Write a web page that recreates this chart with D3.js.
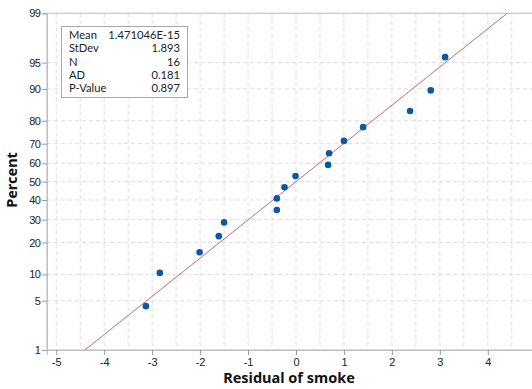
<!DOCTYPE html>
<html>
<head>
<meta charset="utf-8">
<script src="https://cdn.jsdelivr.net/npm/d3@7"></script>
<style>
  body { margin: 0; background: #fff; }
  svg { display: block; font-family: "Noto Sans", "Open Sans", sans-serif; }
  .grid line { stroke: #dcdcdc; stroke-dasharray: 4,3; }
  .tick text { fill: #222; font-size: 11px; }
  .axis-title { font-weight: bold; font-size: 14.5px; fill: #111; }
  .stats text { font-family: Lato, "Noto Sans", sans-serif; font-size: 11.2px; fill: #222; }
</style>
</head>
<body>
<div id="chart"></div>
<script>
// residuals, sorted
const residuals = [-3.13, -2.84, -2.01, -1.61, -1.50, -0.40, -0.40, -0.24,
                   -0.01, 0.67, 0.69, 1.00, 1.40, 2.38, 2.81, 3.11];
// plotting positions (percent)
const percents = [4.27, 10.37, 16.46, 22.56, 28.66, 34.76, 40.85, 46.95,
                  53.05, 59.15, 65.24, 71.34, 77.44, 83.54, 89.63, 95.73];
const xTicks = [-5, -4, -3, -2, -1, 0, 1, 2, 3, 4];
const xGrid = [-5, -4.5, -4, -3.5, -3, -2.5, -2, -1.5, -1, -0.5, 0, 0.5, 1, 1.5, 2, 2.5, 3, 3.5, 4, 4.5, 5];
const yTicks = [1, 5, 10, 20, 30, 40, 50, 60, 70, 80, 90, 95, 99];
const statLabels = ["Mean", "StDev", "N", "AD", "P-Value"];
const statValues = ["1.471046E-15", "1.893", "16", "0.181", "0.897"];
const fitMean = 1.471046e-15;
const fitSd = 1.893;

// inverse standard normal cdf (Acklam)
function probit(p) {
  const a = [-39.69683028665376, 220.9460984245205, -275.9285104469687, 138.3577518672690, -30.66479806614716, 2.506628277459239];
  const b = [-54.47609879822406, 161.5858368580409, -155.6989798598866, 66.80131188771972, -13.28068155288572];
  const c = [-0.007784894002430293, -0.3223964580411365, -2.400758277161838, -2.549732539343734, 4.374664141464968, 2.938163982698783];
  const d = [0.007784695709041462, 0.3224671290700398, 2.445134137142996, 3.754408661907416];
  const pl = 0.02425;
  let q, r;
  if (p < pl) {
    q = Math.sqrt(-2 * Math.log(p));
    return (((((c[0]*q+c[1])*q+c[2])*q+c[3])*q+c[4])*q+c[5]) / ((((d[0]*q+d[1])*q+d[2])*q+d[3])*q+1);
  }
  if (p > 1 - pl) {
    q = Math.sqrt(-2 * Math.log(1 - p));
    return -(((((c[0]*q+c[1])*q+c[2])*q+c[3])*q+c[4])*q+c[5]) / ((((d[0]*q+d[1])*q+d[2])*q+d[3])*q+1);
  }
  q = p - 0.5; r = q * q;
  return (((((a[0]*r+a[1])*r+a[2])*r+a[3])*r+a[4])*r+a[5])*q / (((((b[0]*r+b[1])*r+b[2])*r+b[3])*r+b[4])*r+1);
}

const width = 532, height = 389;
const plotL = 47, plotR = 545, plotT = 13.3, plotB = 350;

const svg = d3.select("#chart").append("svg")
  .attr("width", width).attr("height", height);

const x = d3.scaleLinear().domain([-5.193, 5.193]).range([plotL, plotR]);
const zLo = probit(0.01), zHi = probit(0.99);
const yz = d3.scaleLinear().domain([zLo, zHi]).range([plotB, plotT]);
const y = p => yz(probit(p / 100));

// grid
const grid = svg.append("g").attr("class", "grid");
grid.selectAll("line.v").data(xGrid).enter().append("line")
  .attr("class", "v")
  .attr("x1", d => x(d)).attr("x2", d => x(d))
  .attr("y1", plotT).attr("y2", plotB);
grid.selectAll("line.h").data(yTicks.slice(1, -1)).enter().append("line")
  .attr("class", "h")
  .attr("x1", plotL).attr("x2", plotR)
  .attr("y1", d => y(d)).attr("y2", d => y(d));

// frame
svg.append("rect")
  .attr("x", plotL).attr("y", plotT)
  .attr("width", plotR - plotL).attr("height", plotB - plotT)
  .attr("fill", "none").attr("stroke", "#d0d0d0").attr("stroke-width", 1.5);

// axes
const xAxis = d3.axisBottom(x).tickValues(xTicks).tickSize(5).tickPadding(3)
  .tickFormat(d => d < 0 ? "-" + Math.abs(d) : d);
const gx = svg.append("g").attr("transform", `translate(0,${plotB})`).call(xAxis);
gx.select(".domain").attr("stroke", "#c0c0c0");
gx.selectAll(".tick line").attr("stroke", "#999");
gx.selectAll(".tick text").attr("font-size", "12px");

const yAxis = d3.axisLeft(yz).tickValues(yTicks.map(p => probit(p / 100)))
  .tickSize(5).tickPadding(2)
  .tickFormat((d, i) => yTicks[i]);
const gy = svg.append("g").attr("transform", `translate(${plotL},0)`).call(yAxis);
gy.select(".domain").attr("stroke", "#c0c0c0");
gy.selectAll(".tick line").attr("stroke", "#999");
gy.selectAll(".tick text").attr("font-size", "10.5px").attr("letter-spacing", "-0.8px");

// fit line
svg.append("line")
  .attr("x1", x(fitMean + fitSd * zLo)).attr("y1", yz(zLo))
  .attr("x2", x(fitMean + fitSd * zHi)).attr("y2", yz(zHi))
  .attr("stroke", "#c96a6a").attr("stroke-width", 1);

// points
svg.selectAll("circle.pt").data(residuals).enter().append("circle")
  .attr("class", "pt")
  .attr("cx", d => x(d))
  .attr("cy", (d, i) => y(percents[i]))
  .attr("r", 3.3)
  .attr("fill", "#0b58a8");

// stats box
const stats = svg.append("g").attr("class", "stats");
stats.append("rect")
  .attr("x", 61.5).attr("y", 26.5).attr("width", 126).attr("height", 71)
  .attr("fill", "#fff").attr("stroke", "#a8a8a8").attr("stroke-width", 1);
stats.selectAll("text.lab").data(statLabels).enter().append("text")
  .attr("x", 69).attr("y", (d, i) => 38.8 + i * 13.4)
  .text(d => d);
stats.selectAll("text.val").data(statValues).enter().append("text")
  .attr("x", 180).attr("y", (d, i) => 38.8 + i * 13.4)
  .attr("text-anchor", "end")
  .text(d => d);

// axis titles
svg.append("text").attr("class", "axis-title")
  .attr("x", 289).attr("y", 383).attr("text-anchor", "middle")
  .text("Residual of smoke");
svg.append("text").attr("class", "axis-title")
  .attr("transform", "translate(17,180) rotate(-90)")
  .attr("text-anchor", "middle")
  .text("Percent");
</script>
</body>
</html>
